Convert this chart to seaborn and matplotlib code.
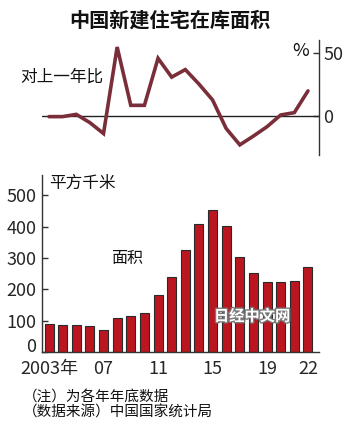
import matplotlib
matplotlib.use('Agg')
import matplotlib.pyplot as plt
import matplotlib.patheffects as pe
import matplotlib.transforms as mtransforms
import seaborn as sns
import pandas as pd

# ---- data ----
years = [str(y) for y in range(2003, 2023)]
area = [88, 87, 87, 82, 70, 107, 116, 126, 182, 238, 325, 407, 453, 403, 303, 252, 225, 225, 228, 271]
yoy = [-0.5, -0.5, 1.3, -5.3, -14, 55, 8.5, 8.5, 46, 31, 37, 25.5, 12.8, -10, -23, -16, -8.5, 0.8, 2.7, 20]
xtick_pos = [0, 4, 8, 12, 16, 19]
xtick_labels = ['2003年', '07', '11', '15', '19', '22']
bar_yticks = [0, 100, 200, 300, 400, 500]
line_yticks = [0, 50]

title = '中国新建住宅在库面积'
line_label = '对上一年比'
bar_unit = '平方千米'
bar_label = '面积'
notes = ['（注）为各年年底数据', '（数据来源）中国国家统计局']
watermark = '日经中文网'

BAR_COLOR = '#bb1620'
LINE_COLOR = '#7a2e39'
AX_COLOR = '#333333'

sns.set_theme(style='white')
plt.rcParams['font.family'] = ['Noto Sans CJK SC', 'DejaVu Sans']
NUM_FONT = ['Liberation Sans Narrow', 'Noto Sans CJK SC', 'DejaVu Sans']

df = pd.DataFrame({'year': years, 'area': area, 'yoy': yoy, 'idx': list(range(len(years)))})

W, H = 350, 442
fig = plt.figure(figsize=(W / 100, H / 100), dpi=100)


def rect(left, top, right, bottom):
    return [left / W, 1 - bottom / H, (right - left) / W, (bottom - top) / H]


XLIM = (-0.514, 19.81)

# ---- line chart ----
ax_line = fig.add_axes(rect(42, 40, 319, 155))
ax_line.set_facecolor('none')
ax_line.axhline(0, color='#222222', lw=1.0, zorder=1)
sns.lineplot(data=df, x='idx', y='yoy', color=LINE_COLOR, lw=2.6, ax=ax_line, zorder=3,
             solid_joinstyle='miter')
ax_line.set_xlim(*XLIM)
ax_line.set_ylim(-31.1, 60.6)
for s in ['top', 'left', 'bottom']:
    ax_line.spines[s].set_visible(False)
ax_line.spines['right'].set_color(AX_COLOR)
ax_line.spines['right'].set_linewidth(1.0)
ax_line.set_xticks([])
ax_line.yaxis.tick_right()
ax_line.set_yticks(line_yticks)
ax_line.set_yticklabels([str(v) for v in line_yticks], family=NUM_FONT, fontsize=13)
ax_line.tick_params(axis='y', direction='in', length=4, width=1, color=AX_COLOR, pad=3, right=True, left=False)
ax_line.set_xlabel('')
ax_line.set_ylabel('')

# ---- bar chart ----
ax_bar = fig.add_axes(rect(42, 175, 319, 352))
ax_bar.set_facecolor('none')
sns.barplot(data=df, x='year', y='area', color=BAR_COLOR, saturation=1, width=0.66,
            edgecolor='#2a2a2a', linewidth=0.8, ax=ax_bar)
ax_bar.set_xlim(*XLIM)
ax_bar.set_ylim(0, 565)
for s in ['top', 'right']:
    ax_bar.spines[s].set_visible(False)
for s in ['left', 'bottom']:
    ax_bar.spines[s].set_color(AX_COLOR)
    ax_bar.spines[s].set_linewidth(1.0)
ax_bar.set_yticks(bar_yticks)
ax_bar.set_yticklabels([str(v) for v in bar_yticks], family=NUM_FONT, fontsize=13)
ax_bar.set_xticks(xtick_pos)
ax_bar.set_xticklabels(xtick_labels, family=NUM_FONT, fontsize=13)
ax_bar.tick_params(axis='y', direction='in', length=4, width=1, color=AX_COLOR, pad=4, left=True)
ax_bar.tick_params(axis='x', length=0, pad=6)
ax_bar.set_xlabel('')
ax_bar.set_ylabel('')
# lift the "0" label so it sits above the x-axis like the reference
zero_lbl = ax_bar.get_yticklabels()[0]
zero_lbl.set_transform(zero_lbl.get_transform() + mtransforms.ScaledTranslation(0, 5 / 72, fig.dpi_scale_trans))

# ---- texts ----
fig.text(170 / W, 1 - 20 / H, title, ha='center', va='center', fontsize=14.5, fontweight='bold', color='#111111')
fig.text(20 / W, 1 - 77 / H, line_label, ha='left', va='center', fontsize=12, color='#111111')
fig.text(301 / W, 1 - 51 / H, '%', ha='center', va='center', fontsize=13, family=NUM_FONT, color='#111111')
fig.text(49 / W, 1 - 183 / H, bar_unit, ha='left', va='center', fontsize=12, color='#111111')
fig.text(111 / W, 1 - 259 / H, bar_label, ha='left', va='center', fontsize=11.5, color='#111111')
fig.text(23 / W, 1 - 398 / H, notes[0], ha='left', va='center', fontsize=10.5, color='#111111')
fig.text(23 / W, 1 - 413 / H, notes[1], ha='left', va='center', fontsize=10.5, color='#111111')
fig.text(252 / W, 1 - 316 / H, watermark, ha='center', va='center', fontsize=11, fontweight='bold',
         color='white', path_effects=[pe.withStroke(linewidth=2, foreground='#777777')])

fig.savefig('out.png', dpi=100)
